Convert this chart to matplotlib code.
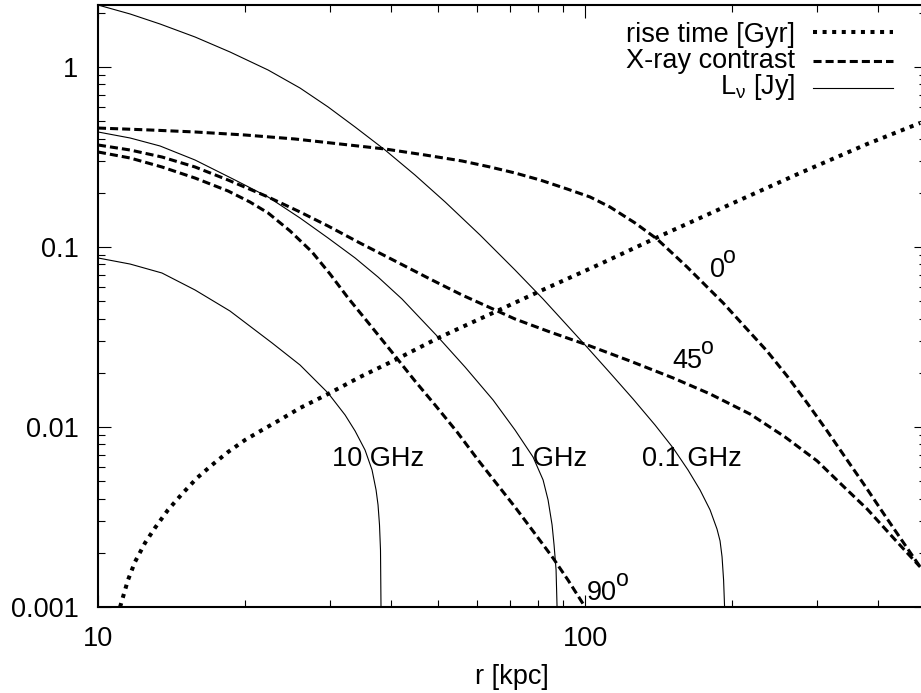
import matplotlib
matplotlib.use("Agg")
import matplotlib.pyplot as plt
from matplotlib.ticker import LogLocator, FixedFormatter, FixedLocator, NullFormatter

plt.rcParams['font.family'] = ['Liberation Sans', 'DejaVu Sans']
plt.rcParams['mathtext.fontset'] = 'custom'
plt.rcParams['mathtext.rm'] = 'Liberation Sans'
plt.rcParams['mathtext.it'] = 'Liberation Sans:italic'
plt.rcParams['mathtext.default'] = 'rm'
plt.rcParams['lines.scale_dashes'] = False

# rise time [Gyr]
r_rise = [11.10, 11.52, 11.91, 12.49, 13.09, 13.92, 14.88, 15.97, 17.14, 18.49, 20.04, 21.72, 23.42, 25.99,
          29.67, 34.51, 40.73, 49.91, 65.35, 80.86, 107.35, 142.6, 201.4, 276.4, 379.5, 487.5]
t_rise = [0.001, 0.00141, 0.00178, 0.00227, 0.00275, 0.00346, 0.00425, 0.00521, 0.00615, 0.00726, 0.00847,
          0.00962, 0.0108, 0.01275, 0.01526, 0.01896, 0.02357, 0.0312, 0.0436, 0.0569, 0.0804, 0.1151,
          0.1755, 0.2577, 0.3734, 0.4887]

# X-ray contrast at 0, 45 and 90 deg
r_x0 = [10, 12.79, 15.82, 20.04, 25.38, 31.41, 38.84, 46.94, 55.90, 63.81, 71.82, 80.86, 91.84, 102.4, 112.5,
        126.7, 140.5, 150.9, 162.0, 176.4, 192.1, 213.1, 236.4, 259.9, 285.7, 314.1, 345.1, 375.8, 409.3,
        443.6, 487.5]
c_x0 = [0.458, 0.4467, 0.4355, 0.4190, 0.3981, 0.3734, 0.3503, 0.3244, 0.3005, 0.2783, 0.2577, 0.2356, 0.2101,
        0.1896, 0.1668, 0.1359, 0.1108, 0.0926, 0.0774, 0.0615, 0.0489, 0.0359, 0.0264, 0.0192, 0.0136,
        0.0095, 0.00656, 0.0047, 0.00333, 0.00242, 0.00167]
r_x45 = [10, 11.64, 13.53, 15.82, 18.49, 22.35, 25.99, 29.67, 34.51, 40.73, 48.05, 55.90, 65.35, 71.82, 84.76,
         100.9, 123.7, 151.6, 180.6, 218.2, 257.4, 299.5, 342.0, 379.5, 433.2, 487.5]
c_x45 = [0.3687, 0.3458, 0.3162, 0.2783, 0.2356, 0.1896, 0.1565, 0.1308, 0.1052, 0.0836, 0.0664, 0.0541, 0.0447,
         0.0398, 0.0337, 0.0286, 0.02326, 0.01873, 0.01526, 0.0118, 0.0088, 0.00648, 0.00458, 0.0035,
         0.00236, 0.00167]
r_x90 = [10, 11.64, 13.53, 15.82, 18.49, 20.51, 22.35, 24.80, 27.51, 29.95, 32.62, 36.19, 40.73, 44.76, 49.20,
         54.61, 60.29, 66.91, 71.82, 78.20, 85.96, 92.28, 100]
c_x90 = [0.3372, 0.3122, 0.2783, 0.2416, 0.2048, 0.1778, 0.1545, 0.1227, 0.0938, 0.0708, 0.0521, 0.0369, 0.0248,
         0.0180, 0.01326, 0.00938, 0.00656, 0.00458, 0.00359, 0.00264, 0.00187, 0.00141, 0.001]

# L_nu [Jy] at 0.1, 1 and 10 GHz
r_l01 = [10, 11.64, 13.41, 15.82, 18.66, 22.35, 25.99, 29.67, 33.72, 38.84, 44.76, 51.60, 60.86, 71.82, 82.0,
         90.97, 100.9, 112.5, 125.5, 139.2, 151.6, 162.7, 172.2, 180.6, 186.6, 189.3, 191.1, 192.5, 193.4]
l_01 = [2.21, 1.970, 1.733, 1.468, 1.212, 0.962, 0.764, 0.600, 0.464, 0.346, 0.251, 0.178, 0.1166, 0.0745,
        0.0514, 0.0378, 0.0278, 0.0200, 0.0143, 0.01026, 0.00765, 0.00577, 0.00447, 0.00346, 0.00271,
        0.00233, 0.00190, 0.00141, 0.001]
r_l1 = [10, 11.64, 13.41, 15.82, 19.11, 22.35, 25.99, 29.67, 33.72, 37.58, 42.09, 45.83, 49.91, 56.70, 64.73,
        71.82, 78.20, 82.0, 83.96, 85.56, 86.37, 87.19, 87.60]
l_1 = [0.4355, 0.4032, 0.3640, 0.3043, 0.2356, 0.1896, 0.1449, 0.1122, 0.0869, 0.0681, 0.0514, 0.0403, 0.0316,
       0.02154, 0.01413, 0.00962, 0.00681, 0.00508, 0.00393, 0.00286, 0.00221, 0.00161, 0.001]
r_l10 = [10, 11.64, 13.53, 15.82, 18.66, 22.77, 25.99, 29.67, 32.16, 33.72, 35.34, 36.53, 37.23, 37.58, 37.84,
         38.02, 38.11]
l_10 = [0.0869, 0.0804, 0.0717, 0.0577, 0.0441, 0.0293, 0.0221, 0.01545, 0.01166, 0.0095, 0.00745, 0.00577,
        0.00447, 0.00369, 0.00286, 0.00207, 0.001]

# angle labels (number + raised "o") and frequency labels: text, x, y (baseline)
angle_labels = [('0', 180.6, 0.068), ('45', 150.9, 0.0213), ('90', 101, 0.00109)]
freq_labels = [('10 GHz', 30.2, 0.00607), ('1 GHz', 70.2, 0.00607), ('0.1 GHz', 130.9, 0.00607)]

fs = 19.5
dotted = dict(color='black', lw=2.9, dashes=(2.9, 4.0))
dashed = dict(color='black', lw=2.2, dashes=(5.8, 2.9))
solid = dict(color='black', lw=0.8)

fig = plt.figure(figsize=(9.21, 6.93), dpi=100)
ax = fig.add_axes([98 / 921, 86 / 693, 827.5 / 921, 602 / 693])

ax.plot(r_rise, t_rise, **dotted)
ax.plot(r_x0, c_x0, **dashed)
ax.plot(r_x45, c_x45, **dashed)
ax.plot(r_x90, c_x90, **dashed)
ax.plot(r_l01, l_01, **solid)
ax.plot(r_l1, l_1, **solid)
ax.plot(r_l10, l_10, **solid)

ax.set_xscale('log')
ax.set_yscale('log')
ax.set_xlim(10, 500)
ax.set_ylim(0.001, 2.21)

ax.xaxis.set_major_locator(FixedLocator([10, 100]))
ax.xaxis.set_major_formatter(FixedFormatter(['10', '100']))
ax.xaxis.set_minor_locator(LogLocator(base=10, subs=range(2, 10)))
ax.xaxis.set_minor_formatter(NullFormatter())
ax.yaxis.set_major_locator(FixedLocator([0.001, 0.01, 0.1, 1]))
ax.yaxis.set_major_formatter(FixedFormatter(['0.001', '0.01', '0.1', '1']))
ax.yaxis.set_minor_locator(LogLocator(base=10, subs=range(2, 10)))
ax.yaxis.set_minor_formatter(NullFormatter())

ax.tick_params(which='both', direction='in', top=True, right=True, width=0.8, labelsize=fs)
ax.tick_params(which='major', length=9, pad=14)
ax.tick_params(which='minor', length=5)
for s in ax.spines.values():
    s.set_linewidth(1.5)

ax.set_xlabel('r [kpc]', fontsize=fs, labelpad=8)

for txt, x, y in freq_labels:
    ax.text(x, y, txt, fontsize=fs, ha='left', va='baseline')

# gnuplot style 0^o: superscript letter o, barely smaller than the digits
for txt, x, y in angle_labels:
    ax.text(x, y, txt, fontsize=fs, ha='left', va='baseline')
    ax.annotate('o', xy=(x, y), xytext=(0.556 * fs * len(txt) - 1.2, 10), textcoords='offset points',
                fontsize=fs * 0.85, ha='left', va='baseline')

# legend, gnuplot style: text right aligned, sample to the right
leg_rows = [('rise time [Gyr]', dotted, 0.9385, 0.9546),
            ('X-ray contrast', dashed, 0.8953, 0.907),
            (r'L$_{\nu}$ [Jy]', solid, 0.8522, 0.8625)]
for txt, st, ty, ly in leg_rows:
    ax.text(0.8423, ty, txt, transform=ax.transAxes, fontsize=fs, ha='right', va='baseline')
    ax.plot([0.864, 0.9607], [ly, ly], transform=ax.transAxes, **st)

fig.savefig('out.png', dpi=100)
